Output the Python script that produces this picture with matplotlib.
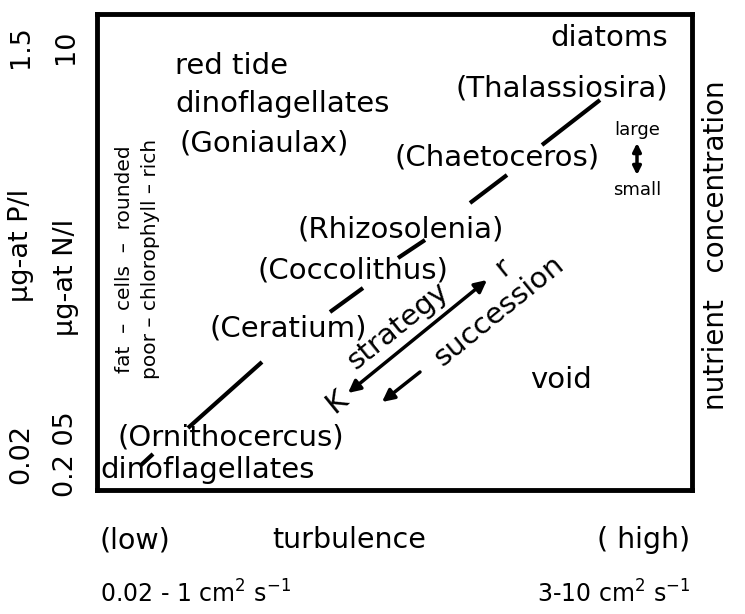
import matplotlib
matplotlib.use("Agg")
import matplotlib.pyplot as plt

plt.rcParams['font.family'] = ['DejaVu Sans']

# ---- content (positions in pixel-like data units of the box) ----
main_labels = ["diatoms", "(Thalassiosira)", "red tide", "dinoflagellates", "(Goniaulax)",
               "(Chaetoceros)", "(Rhizosolenia)", "(Coccolithus)", "(Ceratium)",
               "void", "(Ornithocercus)", "dinoflagellates"]
main_x = [668, 668, 175, 175, 180, 600, 297, 257, 210, 530, 118, 100]
main_y = [38, 88, 66, 104, 143, 157, 229, 270, 328, 380, 437, 470]
main_ha = ["right", "right", "left", "left", "left", "right", "left", "left", "left",
           "left", "left", "left"]

# connector segments along the diagonal
seg_x0 = [140, 188, 330, 398, 470, 542]
seg_y0 = [466, 428, 312, 258, 203, 145]
seg_x1 = [153, 262, 363, 425, 507, 600]
seg_y1 = [454, 362, 288, 240, 175, 100]

size_labels = ["large", "small"]
size_y = [130, 190]
size_x = 637

side_lines = ["fat  \u2013  cells  \u2013  rounded", "poor \u2013 chlorophyll \u2013 rich"]
side_x = [125, 150]
side_y = 259

left_top = ["1.5", "10"]
left_mid = ["\u00b5g-at P/l", "\u00b5g-at N/l"]
left_bot = ["0.02", "0.2 05"]
left_cols = [21, 66]

bottom_row1 = ["(low)", "turbulence", "( high)"]
bottom_row1_x = [100, 272, 690]
bottom_row1_ha = ["left", "left", "right"]
bottom_row2 = ["0.02 - 1 cm$^2$ s$^{-1}$", "3-10 cm$^2$ s$^{-1}$"]
bottom_row2_x = [100, 690]
bottom_row2_ha = ["left", "right"]

fig = plt.figure(figsize=(7.45, 6.14), dpi=100)
W, H = 745, 614
L, R, T, B = 97, 692, 14, 490
ax = fig.add_axes([L / W, 1 - B / H, (R - L) / W, (B - T) / H])
ax.set_xlim(L, R)
ax.set_ylim(B, T)
ax.set_xticks([])
ax.set_yticks([])
for s in ax.spines.values():
    s.set_linewidth(3.5)
    s.set_color("black")

fs = 21
for lab, x, y, ha in zip(main_labels, main_x, main_y, main_ha):
    ax.text(x, y, lab, ha=ha, va="center", fontsize=fs, color="black")

for x0, y0, x1, y1 in zip(seg_x0, seg_y0, seg_x1, seg_y1):
    ax.plot([x0, x1], [y0, y1], color="black", lw=3, solid_capstyle="butt")

# size indicator
ax.text(size_x, size_y[0], size_labels[0], ha="center", va="center", fontsize=13)
ax.text(size_x, size_y[1], size_labels[1], ha="center", va="center", fontsize=13)
ax.annotate("", xy=(size_x, 143), xytext=(size_x, 175),
            arrowprops=dict(arrowstyle="<|-|>", color="black", lw=2.5,
                            mutation_scale=12, shrinkA=0, shrinkB=0))

# side rotated text
for lab, x in zip(side_lines, side_x):
    ax.text(x, side_y, lab, rotation=90, ha="center", va="center", fontsize=14.5)

# strategy / succession arrows
ax.annotate("", xy=(348, 393), xytext=(487, 280),
            arrowprops=dict(arrowstyle="<|-|>", color="black", lw=2.5,
                            mutation_scale=18, shrinkA=0, shrinkB=0))
ax.annotate("", xy=(382, 402), xytext=(420, 372),
            arrowprops=dict(arrowstyle="-|>", color="black", lw=2.5,
                            mutation_scale=18, shrinkA=0, shrinkB=0))
ax.text(398, 326, "strategy", rotation=39, ha="center", va="center", fontsize=fs,
        rotation_mode="anchor")
ax.text(499, 311, "succession", rotation=39, ha="center", va="center", fontsize=fs,
        rotation_mode="anchor")
ax.text(337, 402, "K", rotation=39, ha="center", va="center", fontsize=fs)
ax.text(503, 267, "r", rotation=39, ha="center", va="center", fontsize=fs)

# left axis texts (rotated)
lfs = 19.5
for x, lab in zip(left_cols, left_top):
    ax.text(x, 47, lab, rotation=90, ha="center", va="center", fontsize=lfs, clip_on=False)
for x, lab, y in zip(left_cols, left_mid, [245, 277]):
    ax.text(x, y, lab, rotation=90, ha="center", va="center", fontsize=lfs, clip_on=False)
for x, lab in zip(left_cols, left_bot):
    ax.text(x, 454, lab, rotation=90, ha="center", va="center", fontsize=lfs, clip_on=False)

# right axis label
ax.text(716, 245, "nutrient   concentration", rotation=90, ha="center", va="center",
        fontsize=20, clip_on=False)

# bottom texts
for lab, x, ha in zip(bottom_row1, bottom_row1_x, bottom_row1_ha):
    ax.text(x, 540, lab, ha=ha, va="center", fontsize=20.5, clip_on=False)
for lab, x, ha in zip(bottom_row2, bottom_row2_x, bottom_row2_ha):
    ax.text(x, 594, lab, ha=ha, va="center", fontsize=17, clip_on=False)

fig.savefig("out.png", dpi=100)
